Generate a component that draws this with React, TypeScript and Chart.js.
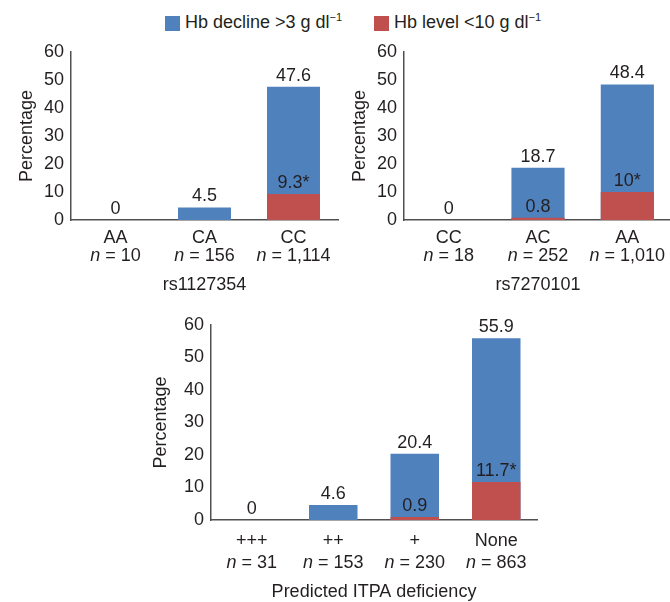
import React, { useEffect, useRef } from 'react';
import { Chart, registerables } from 'chart.js';

Chart.register(...registerables);

const FONT = '"Liberation Sans", Arial, Helvetica, sans-serif';
const TEXT = '#231f20';
const AXIS = '#505052';
const BLUE = '#4f81bd';
const RED = '#c0504d';

const legendLabels = ['Hb decline >3 g dl', 'Hb level <10 g dl'];
const legendSup = '\u22121';

// Panel 1: rs1127354
const p1Categories = ['AA', 'CA', 'CC'];
const p1N = ['10', '156', '1,114'];
const p1Decline = [0, 4.5, 47.6];
const p1Level = [0, 0, 9.3];
const p1DeclineLabels = ['0', '4.5', '47.6'];
const p1LevelLabels = ['', '', '9.3*'];
const p1Title = 'rs1127354';

// Panel 2: rs7270101
const p2Categories = ['CC', 'AC', 'AA'];
const p2N = ['18', '252', '1,010'];
const p2Decline = [0, 18.7, 48.4];
const p2Level = [0, 0.8, 10];
const p2DeclineLabels = ['0', '18.7', '48.4'];
const p2LevelLabels = ['', '0.8', '10*'];
const p2Title = 'rs7270101';

// Panel 3: predicted ITPA deficiency
const p3Categories = ['+++', '++', '+', 'None'];
const p3N = ['31', '153', '230', '863'];
const p3Decline = [0, 4.6, 20.4, 55.9];
const p3Level = [0, 0, 0.9, 11.7];
const p3DeclineLabels = ['0', '4.6', '20.4', '55.9'];
const p3LevelLabels = ['', '', '0.9', '11.7*'];
const p3Title = 'Predicted ITPA deficiency';

const yAxisTitle = 'Percentage';
const yMin = 0;
const yMax = 60;
const yStep = 10;

const labelPlugin = {
  id: 'customLabels',
  afterDatasetsDraw(chart: any, _args: any, opts: any) {
    const ctx = chart.ctx as CanvasRenderingContext2D;
    const { cats, ns, blueLabels, redLabels, title, line1, line2, titleY, gap } = opts;
    const xs = chart.scales.x;
    const area = chart.chartArea;
    const bottom = area.bottom;
    const normal = `18px ${FONT}`;
    const italic = `italic 18px ${FONT}`;
    ctx.save();
    ctx.fillStyle = TEXT;
    ctx.textBaseline = 'alphabetic';
    ctx.textAlign = 'center';
    ctx.font = normal;
    const blueMeta = chart.getDatasetMeta(0);
    const redMeta = chart.getDatasetMeta(1);
    blueMeta.data.forEach((bar: any, i: number) => {
      ctx.fillText(blueLabels[i], bar.x, bar.y - gap);
    });
    redMeta.data.forEach((bar: any, i: number) => {
      if (redLabels[i]) ctx.fillText(redLabels[i], bar.x, bar.y - gap);
    });
    cats.forEach((c: string, i: number) => {
      const px = xs.getPixelForValue(i);
      ctx.textAlign = 'center';
      ctx.font = normal;
      ctx.fillText(c, px, bottom + line1);
      ctx.font = italic;
      const w1 = ctx.measureText('n').width;
      ctx.font = normal;
      const rest = ' = ' + ns[i];
      const w2 = ctx.measureText(rest).width;
      const start = px - (w1 + w2) / 2;
      ctx.textAlign = 'left';
      ctx.font = italic;
      ctx.fillText('n', start, bottom + line2);
      ctx.font = normal;
      ctx.fillText(rest, start + w1, bottom + line2);
    });
    ctx.textAlign = 'center';
    ctx.font = normal;
    ctx.fillText(title, (area.left + area.right) / 2, bottom + titleY);
    ctx.restore();
  },
};

type PanelProps = {
  left: number;
  top: number;
  width: number;
  height: number;
  padding: { left: number; right: number; top: number; bottom: number };
  yWidth: number;
  titlePad: number;
  cats: string[];
  ns: string[];
  decline: number[];
  level: number[];
  declineLabels: string[];
  levelLabels: string[];
  title: string;
  line1: number;
  line2: number;
  titleY: number;
};

function Panel(p: PanelProps) {
  const ref = useRef<HTMLCanvasElement | null>(null);
  useEffect(() => {
    if (!ref.current) return;
    const chart = new Chart(ref.current, {
      type: 'bar',
      data: {
        labels: p.cats,
        datasets: [
          {
            label: legendLabels[0],
            data: p.decline,
            backgroundColor: BLUE,
            borderWidth: 0,
            order: 1,
            barPercentage: 0.595,
            categoryPercentage: 1,
          },
          {
            label: legendLabels[1],
            data: p.level,
            backgroundColor: RED,
            borderWidth: 0,
            order: 0,
            barPercentage: 0.595,
            categoryPercentage: 1,
          },
        ],
      },
      options: {
        animation: false,
        responsive: false,
        maintainAspectRatio: false,
        devicePixelRatio: 1,
        layout: { padding: p.padding },
        plugins: {
          legend: { display: false },
          tooltip: { enabled: false },
          customLabels: {
            cats: p.cats,
            ns: p.ns,
            blueLabels: p.declineLabels,
            redLabels: p.levelLabels,
            title: p.title,
            line1: p.line1,
            line2: p.line2,
            titleY: p.titleY,
            gap: 6,
          },
        } as any,
        scales: {
          x: {
            stacked: true,
            grid: { display: false, drawTicks: false },
            border: { display: true, color: AXIS, width: 1.5 },
            ticks: { display: false },
            afterFit: (s: any) => {
              s.height = 0;
            },
          },
          y: {
            stacked: false,
            min: yMin,
            max: yMax,
            grid: { display: false, drawTicks: false },
            border: { display: true, color: AXIS, width: 1.5 },
            ticks: {
              stepSize: yStep,
              padding: 7,
              color: TEXT,
              font: { family: FONT, size: 18 },
            },
            title: {
              display: true,
              text: yAxisTitle,
              color: TEXT,
              font: { family: FONT, size: 18 },
              padding: { top: p.titlePad, bottom: 0 },
            },
            afterFit: (s: any) => {
              s.width = p.yWidth;
            },
          },
        },
      },
      plugins: [labelPlugin],
    });
    return () => chart.destroy();
  }, []);
  return (
    <canvas
      ref={ref}
      width={p.width}
      height={p.height}
      style={{ position: 'absolute', left: p.left, top: p.top, width: p.width, height: p.height }}
    />
  );
}

function LegendItem({ left, color, text }: { left: number; color: string; text: string }) {
  return (
    <div
      style={{
        position: 'absolute',
        left,
        top: 16,
        height: 15,
        display: 'flex',
        alignItems: 'center',
        whiteSpace: 'nowrap',
        fontFamily: FONT,
        fontSize: 18,
        color: TEXT,
      }}
    >
      <div style={{ width: 15, height: 15, background: color, marginRight: 5, flex: 'none' }} />
      <span style={{ lineHeight: '15px' }}>
        {text}
        <span style={{ fontSize: 11, position: 'relative', top: -7 }}>{legendSup}</span>
      </span>
    </div>
  );
}

export default function App() {
  return (
    <div
      style={{
        position: 'absolute',
        left: 0,
        top: 0,
        width: 670,
        height: 602,
        overflow: 'hidden',
        background: '#ffffff',
      }}
    >
      <LegendItem left={165} color={BLUE} text={legendLabels[0]} />
      <LegendItem left={374} color={RED} text={legendLabels[1]} />
      <Panel
        left={0}
        top={30}
        width={340}
        height={270}
        padding={{ left: 0, right: 2, top: 22, bottom: 80 }}
        yWidth={71}
        titlePad={16}
        cats={p1Categories}
        ns={p1N}
        decline={p1Decline}
        level={p1Level}
        declineLabels={p1DeclineLabels}
        levelLabels={p1LevelLabels}
        title={p1Title}
        line1={23}
        line2={41}
        titleY={70}
      />
      <Panel
        left={340}
        top={30}
        width={335}
        height={270}
        padding={{ left: 0, right: 3, top: 22, bottom: 80 }}
        yWidth={64}
        titlePad={9}
        cats={p2Categories}
        ns={p2N}
        decline={p2Decline}
        level={p2Level}
        declineLabels={p2DeclineLabels}
        levelLabels={p2LevelLabels}
        title={p2Title}
        line1={23}
        line2={41}
        titleY={70}
      />
      <Panel
        left={130}
        top={300}
        width={420}
        height={302}
        padding={{ left: 0, right: 13, top: 25, bottom: 82 }}
        yWidth={81}
        titlePad={20}
        cats={p3Categories}
        ns={p3N}
        decline={p3Decline}
        level={p3Level}
        declineLabels={p3DeclineLabels}
        levelLabels={p3LevelLabels}
        title={p3Title}
        line1={26}
        line2={48}
        titleY={77}
      />
    </div>
  );
}
